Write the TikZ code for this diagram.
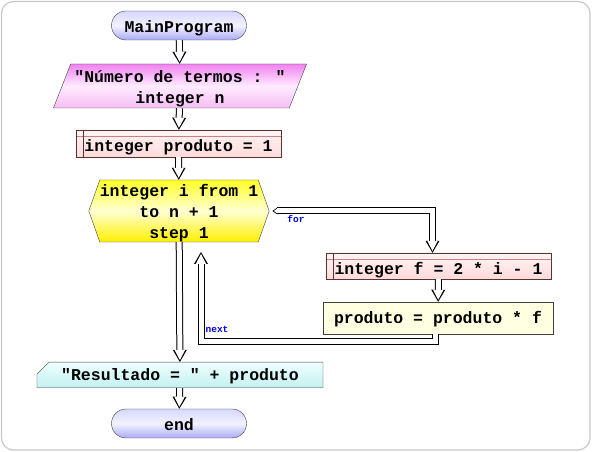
\documentclass[tikz,border=0pt]{standalone}
\usepackage{fontspec}
\newfontfamily\flowfont{Liberation Mono}
\usetikzlibrary{arrows.meta,shapes.geometric,shapes.symbols,shapes.misc}

\definecolor{framegray}{RGB}{200,200,200}
\definecolor{edgegray}{RGB}{64,64,64}
\definecolor{termtop}{RGB}{215,215,255}
\definecolor{termmid}{RGB}{242,242,255}
\definecolor{termbot}{RGB}{170,170,245}
\definecolor{inptop}{RGB}{240,130,240}
\definecolor{inpmid}{RGB}{255,235,255}
\definecolor{inpbot}{RGB}{245,190,245}
\definecolor{asstop}{RGB}{255,244,244}
\definecolor{assbot}{RGB}{255,218,218}
\definecolor{assedge}{RGB}{90,50,50}
\definecolor{headline}{RGB}{200,130,130}
\definecolor{looptop}{RGB}{255,255,40}
\definecolor{loopmid}{RGB}{255,255,210}
\definecolor{loopbot}{RGB}{255,240,0}
\definecolor{updfill}{RGB}{255,255,225}
\definecolor{restop}{RGB}{238,255,255}
\definecolor{resbot}{RGB}{195,240,240}
\definecolor{labelblue}{RGB}{0,0,230}

\tikzset{
  arrowout/.style={draw=black,line width=7pt,
    -{Triangle[length=12pt,width=14pt,line width=0pt]}},
  arrowin/.style={draw=white,line width=5pt,shorten >=2pt,
    -{Triangle[length=10pt,width=10.5pt,line width=0pt]}}
}
\newcommand{\hollowarrow}[1]{\draw[arrowout] #1; \draw[arrowin] #1;}

\begin{document}
\begin{tikzpicture}[x=1pt,y=1pt,line join=miter,
                    font=\flowfont\bfseries\fontsize{16.5pt}{21pt}\selectfont]
    \tikzset{every node/.style={inner sep=0pt,text=black},
      terminal/.style={rectangle,rounded corners=14.5pt,draw=edgegray,
        top color=termtop,bottom color=termbot,middle color=termmid,
        minimum width=135pt,minimum height=29pt,text height=16pt,text depth=1pt},
      inputbox/.style={trapezium,trapezium left angle=65.5,
        trapezium right angle=114.5,trapezium stretches=true,
        draw=edgegray,top color=inptop,bottom color=inpbot,middle color=inpmid,
        minimum width=254pt,minimum height=44pt,align=center,
        text height=36pt,text depth=0.6pt},
      assignbox/.style={rectangle,draw=assedge,top color=asstop,bottom color=assbot,
        path picture={
          \draw[headline] ([yshift=-6pt]path picture bounding box.north west)
            -- ([yshift=-6pt]path picture bounding box.north east);
          \draw[assedge] ([xshift=7pt]path picture bounding box.north west)
            -- ([xshift=7pt]path picture bounding box.south west);}},
      loopbox/.style={signal,signal to=west and east,signal pointer angle=141,
        draw=edgegray,top color=looptop,bottom color=loopbot,middle color=loopmid,
        minimum width=178pt,minimum height=62pt,align=center,
        text height=56.5pt,text depth=0.5pt},
      updatebox/.style={rectangle,draw=edgegray,fill=updfill,
        minimum width=230pt,minimum height=32pt,text height=13pt,text depth=2.4pt},
      outputbox/.style={chamfered rectangle,chamfered rectangle corners=north west,
        chamfered rectangle xsep=6pt,chamfered rectangle ysep=6pt,
        draw=edgegray,top color=restop,bottom color=resbot,
        minimum width=286pt,minimum height=20pt,text height=12.5pt,text depth=1.1pt},
      looplabel/.style={text=labelblue,
        font=\flowfont\bfseries\fontsize{9.5pt}{11pt}\selectfont}}

    % frame
    \useasboundingbox (0,0) rectangle (592,452);
    \draw[framegray,line width=1.2pt,rounded corners=12pt] (1.5,2) rectangle (590,450.5);

    \node[terminal] (main) at (179,426.5) {MainProgram};
    \node[inputbox] (input) at (180,366) {"Número de termos : "\\integer n};
    \node[assignbox,minimum width=205pt,minimum height=27pt,
          text height=18.5pt,text depth=3pt] (initprod) at (178.5,308.5)
          {integer produto = 1};
    \node[loopbox] (loop) at (179,241) {integer i from 1\\to n + 1\\step 1};
    \node[assignbox,minimum width=225pt,minimum height=26pt,
          text height=21pt,text depth=3pt] (fcalc) at (438.5,186)
          {integer f = 2 * i - 1};
    \node[updatebox] (update) at (438,134) {produto = produto * f};
    \node[outputbox] (result) at (180,77) {"Resultado = " + produto};
    \node[terminal] (end) at (179,28.5) {end};

    \node[looplabel] (forlbl) at (296,233) {for};
    \node[looplabel] (nextlbl) at (217,123) {next};
    \coordinate (loopend) at (201,200);

    % connectors
    \hollowarrow{(main) -- (input)}
    \hollowarrow{(input) -- (initprod)}
    \hollowarrow{(initprod) -- (loop)}
    \draw[arrowout,{Triangle[length=5pt,width=7pt,line width=0pt]}-{Triangle[length=12pt,width=14pt,line width=0pt]},
          shorten <=3pt] (loop.east) -| ([xshift=-6pt]fcalc.north);
    \draw[arrowin,{Triangle[length=3.5pt,width=5pt,line width=0pt]}-{Triangle[length=10pt,width=10.5pt,line width=0pt]},
          shorten <=4.5pt] (loop.east) -| ([xshift=-6pt]fcalc.north);
    \hollowarrow{(fcalc) -- (update)}
    \hollowarrow{([xshift=-3pt]update.south) -- ++(0,-7) -| (loopend)}
    \hollowarrow{(loop) -- (result)}
    \hollowarrow{(result) -- (end)}
\end{tikzpicture}
\end{document}
